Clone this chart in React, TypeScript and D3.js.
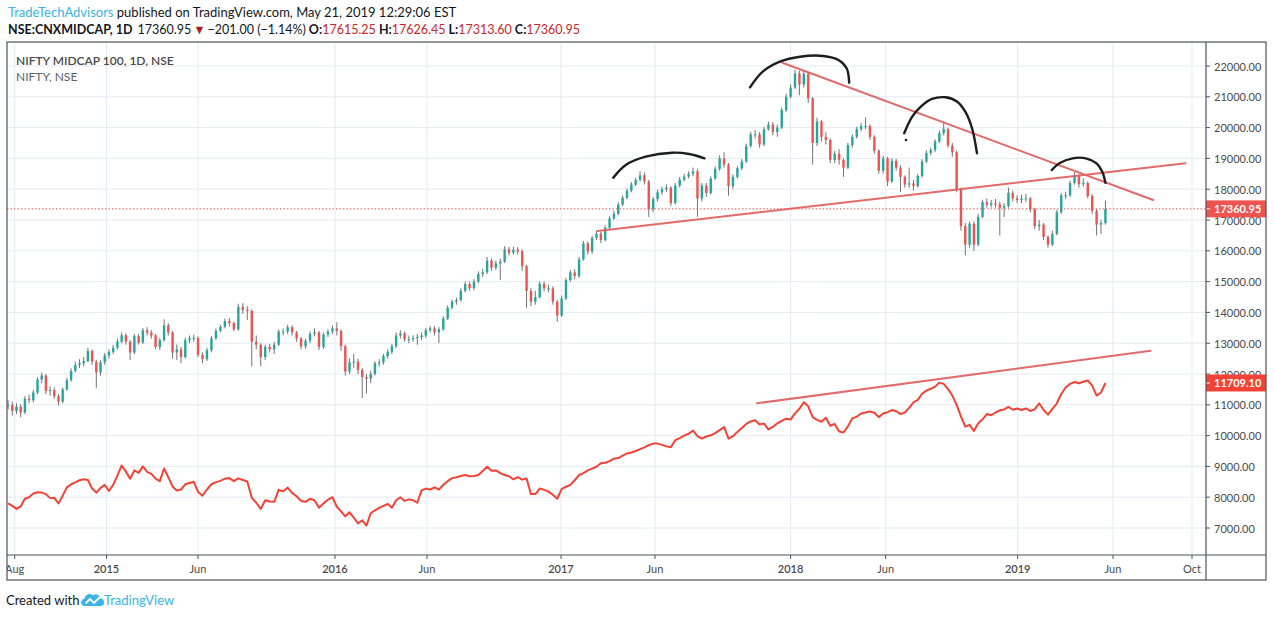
import React, { useEffect, useRef } from 'react';
import * as d3 from 'd3';

// ---- data (weekly bars, first week = 2014-07-21) ----
const weekStart = '2014-07-21';

const midClose = [
  11000, 10800, 10940, 10750, 11200, 11150, 11400, 11820, 11950, 11450,
  11480, 11280, 11100, 11500, 11800, 12100, 12300, 12350, 12420, 12750,
  12400, 12050, 12380, 12600, 12720, 12850, 13050, 13260, 13050, 12700,
  13230, 13020, 13420, 13340, 13250, 12880, 13100, 13580, 13350, 12700,
  12800, 12550, 13100, 13160, 13170, 12620, 12480, 12770, 13160, 13400,
  13530, 13720, 13650, 13450, 14180, 14080, 14050, 13050, 12950, 12550,
  12880, 12800, 12950, 13380, 13380, 13520, 13350, 13150, 12900, 13080,
  13300, 13350, 12880, 13280, 13380, 13480, 13400, 12900, 12080, 12380,
  12400, 12130, 11900, 11850, 12000, 12350, 12380, 12580, 12720, 12900,
  13250, 13320, 13130, 13130, 13170, 13200, 13250, 13420, 13480, 13350,
  13450, 13800, 14150, 14350, 14400, 14700, 14920, 14790, 15000, 15250,
  15300, 15680, 15450, 15590, 15650, 16050, 15940, 16040, 15980, 15500,
  14700, 14350, 14500, 14930, 14780, 14780, 14350, 13900, 14450, 15050,
  15300, 15180, 15720, 16240, 15980, 16420, 16560, 16350, 16750, 17050,
  17200, 17500, 17720, 17950, 18150, 18300, 18450, 18250, 17350, 17680,
  17900, 18000, 18050, 17550, 18120, 18310, 18410, 18500, 18580, 17700,
  18120, 17880, 18350, 18660, 19000, 18800, 18100, 18400, 18680, 18900,
  19400, 19780, 19780, 19450, 19950, 20100, 19860, 20000, 20570, 21000,
  21300, 21760, 21400, 21750, 20950, 19500, 20200, 19700, 19600, 18950,
  19150, 18950, 18700, 19430, 19700, 19950, 20050, 20050, 19700, 19250,
  18600, 19000, 18250, 18920, 18700, 18400, 18150, 18190, 18100, 18430,
  18900, 19180, 19270, 19550, 19820, 19950, 19420, 19200, 18000, 16800,
  16200, 16880, 16200, 17100, 17580, 17490, 17540, 17500, 17400, 17450,
  17880, 17700, 17650, 17700, 17700, 17350, 16800, 16850, 16450, 16200,
  16550, 17250, 17800, 17800, 18200, 18420, 18160, 18200, 17780, 17300,
  16850, 16900, 17360.95,
];

const midHigh = [
  11150, 11100, 11050, 11020, 11280, 11330, 11480, 11900, 12050, 12000,
  11600, 11560, 11350, 11560, 11880, 12180, 12400, 12480, 12550, 12850,
  12800, 12450, 12450, 12680, 12800, 12950, 13150, 13350, 13320, 13100,
  13300, 13300, 13500, 13520, 13420, 13300, 13180, 13780, 13650, 13400,
  12960, 12880, 13180, 13250, 13280, 13220, 12700, 12850, 13230, 13480,
  13600, 13800, 13820, 13700, 14280, 14300, 14200, 14100, 13250, 13000,
  12950, 12980, 13050, 13450, 13480, 13600, 13580, 13400, 13200, 13150,
  13380, 13480, 13400, 13350, 13450, 13580, 13680, 13450, 12950, 12500,
  12650, 12500, 12200, 12000, 12100, 12420, 12480, 12650, 12800, 12980,
  13350, 13420, 13380, 13250, 13260, 13300, 13350, 13500, 13560, 13550,
  13520, 13880, 14230, 14420, 14480, 14780, 15000, 15000, 15080, 15330,
  15420, 15800, 15750, 15680, 15750, 16150, 16120, 16130, 16120, 16050,
  15550, 14800, 14700, 15000, 15000, 14900, 14850, 14400, 14550, 15120,
  15380, 15400, 15800, 16320, 16300, 16480, 16650, 16620, 16820, 17120,
  17300, 17580, 17800, 18030, 18230, 18380, 18580, 18550, 18300, 17750,
  17980, 18080, 18150, 18100, 18200, 18400, 18500, 18580, 18700, 18650,
  18200, 18200, 18420, 18740, 19100, 19200, 18850, 18480, 18750, 18980,
  19480, 19860, 19920, 19850, 20020, 20200, 20180, 20100, 20650, 21100,
  21400, 21880, 21850, 21850, 21800, 21000, 20320, 20250, 19850, 19650,
  19250, 19300, 19000, 19500, 19780, 20030, 20150, 20330, 20100, 19750,
  19300, 19080, 19050, 19000, 18980, 18780, 18450, 18700, 18300, 18500,
  18980, 19260, 19350, 19620, 19900, 20150, 20000, 19500, 19250, 18050,
  16900, 16950, 16950, 17200, 17660, 17700, 17650, 17680, 17600, 17550,
  18050, 17950, 17800, 17820, 17850, 17750, 17400, 17000, 16900, 16500,
  16650, 17330, 17880, 17920, 18280, 18550, 18480, 18350, 18250, 17850,
  17350, 17000, 17626.45,
];

const midLow = [
  10850, 10650, 10700, 10600, 10700, 11050, 11080, 11350, 11700, 11350,
  11300, 11200, 10980, 11050, 11450, 11750, 12050, 12200, 12250, 12380,
  12300, 11550, 11950, 12300, 12500, 12650, 12800, 13000, 12950, 12450,
  12650, 12950, 12980, 13250, 13150, 12800, 12780, 13050, 13250, 12500,
  12450, 12350, 12500, 13000, 13050, 12550, 12350, 12420, 12700, 13100,
  13350, 13480, 13550, 13380, 13400, 13950, 13750, 12250, 12800, 12250,
  12450, 12700, 12650, 12900, 13250, 13300, 13250, 13050, 12800, 12820,
  13000, 13220, 12780, 12820, 13200, 13300, 13250, 12750, 11950, 12000,
  12200, 12000, 11220, 11370, 11700, 11950, 12250, 12300, 12500, 12650,
  12850, 13150, 13050, 13000, 13050, 12950, 13100, 13180, 13350, 13250,
  13000, 13400, 13750, 14100, 14250, 14350, 14650, 14700, 14720, 14950,
  15150, 15250, 15350, 15380, 15050, 15600, 15850, 15880, 15880, 15350,
  14150, 14200, 14250, 14450, 14680, 14650, 14250, 13700, 13850, 14400,
  15000, 15080, 15120, 15680, 15880, 15900, 16350, 16250, 16300, 16700,
  17000, 17150, 17450, 17680, 17900, 18100, 18250, 18150, 17100, 17250,
  17600, 17820, 17900, 17450, 17500, 18050, 18250, 18350, 18420, 17100,
  17600, 17750, 17820, 18300, 18600, 18700, 17790, 18000, 18350, 18620,
  18850, 19350, 19650, 19350, 19400, 19900, 19750, 19700, 19950, 20500,
  20950, 21250, 21050, 21300, 20800, 18800, 19400, 19550, 19450, 18850,
  18850, 18800, 18400, 18650, 19350, 19650, 19880, 19950, 19600, 19150,
  18500, 18500, 18100, 18200, 18600, 17900, 18050, 18050, 17950, 18050,
  18380, 18850, 19100, 19200, 19500, 19750, 19350, 19050, 17900, 16650,
  15850, 16100, 16000, 16150, 17050, 17400, 17400, 17400, 16500, 17100,
  17400, 17600, 17550, 17550, 17580, 17250, 16700, 16650, 16350, 16100,
  16150, 16500, 17200, 17680, 17750, 18150, 18050, 18080, 17700, 17200,
  16500, 16550, 16850,
];

const niftyClose = [
  7800, 7720, 7620, 7700, 7950, 8000, 8120, 8160, 8150, 8100,
  7970, 7980, 7800, 8050, 8320, 8420, 8480, 8550, 8580, 8560,
  8280, 8150, 8300, 8400, 8200, 8400, 8700, 9030, 8830, 8600,
  8870, 8790, 9000, 8820, 8760, 8600, 8520, 8930, 8650, 8350,
  8220, 8250, 8420, 8460, 8500, 8180, 8050, 8250, 8420, 8490,
  8530, 8600, 8620, 8520, 8610, 8560, 8510, 7980, 7820, 7620,
  7900, 7860, 7850, 8240, 8190, 8310, 8140, 8030, 7880, 7850,
  7950, 7900, 7660, 7800, 7920, 8000, 7690, 7540, 7380, 7510,
  7340, 7150, 7250, 7080, 7480, 7570, 7650, 7720, 7780, 7660,
  7900, 8000, 7880, 7930, 7900, 7820, 8220, 8280, 8250, 8320,
  8250, 8400, 8520, 8620, 8650, 8690, 8720, 8680, 8690, 8720,
  8850, 8990, 8860, 8870, 8780, 8720, 8680, 8580, 8650, 8570,
  8610, 8100, 8100, 8280, 8240, 8180, 8080, 7950, 8260, 8340,
  8400, 8550, 8720, 8780, 8870, 8930, 8990, 9100, 9120, 9170,
  9250, 9270, 9350, 9420, 9450, 9500, 9560, 9620, 9690, 9740,
  9740, 9700, 9650, 9620, 9850, 9920, 10000, 10060, 10160, 9980,
  9900, 9970, 10010, 10080, 10180, 10280, 9900, 9980, 10120, 10250,
  10380, 10460, 10500, 10360, 10390, 10200, 10280, 10400, 10480, 10550,
  10520, 10720, 10870, 11080, 10950, 10600, 10510, 10450, 10580, 10320,
  10380, 10130, 10100, 10300, 10560, 10610, 10720, 10750, 10780, 10740,
  10600, 10720, 10760, 10830, 10790, 10700, 10750, 10900, 11080, 11160,
  11360, 11460, 11520, 11590, 11720, 11680, 11510, 11300, 11000, 10620,
  10290, 10350, 10150, 10400, 10530, 10700, 10660, 10750, 10820, 10850,
  10930, 10840, 10880, 10830, 10880, 10800, 10850, 11050, 10830, 10680,
  10870, 11050, 11350, 11560, 11680, 11740, 11700, 11750, 11790, 11620,
  11300, 11400, 11709.1,
];

const priceTicks = [7000, 8000, 9000, 10000, 11000, 12000, 13000, 14000, 15000, 16000, 17000, 18000, 19000, 20000, 21000, 22000];

const timeTicks = [
  { date: '2014-08-01', label: 'Aug', year: false },
  { date: '2015-01-01', label: '2015', year: true },
  { date: '2015-06-01', label: 'Jun', year: false },
  { date: '2016-01-01', label: '2016', year: true },
  { date: '2016-06-01', label: 'Jun', year: false },
  { date: '2017-01-01', label: '2017', year: true },
  { date: '2017-06-01', label: 'Jun', year: false },
  { date: '2018-01-01', label: '2018', year: true },
  { date: '2018-06-01', label: 'Jun', year: false },
  { date: '2019-01-01', label: '2019', year: true },
  { date: '2019-06-01', label: 'Jun', year: false },
  { date: '2019-10-01', label: 'Oct', year: false },
];

// trend lines drawn on the chart, in [date, price]
const midResistance: [string, number][] = [['2017-12-19', 22107], ['2019-08-02', 17649]];
const midSupport: [string, number][] = [['2017-03-01', 16643], ['2019-09-21', 18841]];
const niftyResistance: [string, number][] = [['2017-11-09', 11049], ['2019-07-29', 12756]];

// hand drawn arcs
const arcs: [string, number][][] = [
  [['2017-03-26', 18373], ['2017-04-15', 18786], ['2017-05-17', 19055], ['2017-06-28', 19185], ['2017-07-25', 19143], ['2017-08-18', 19003]],
  [['2017-10-29', 21308], ['2017-11-18', 21815], ['2017-12-15', 22140], ['2018-01-16', 22302], ['2018-02-22', 22325], ['2018-03-18', 22195], ['2018-03-31', 21925], ['2018-04-04', 21458]],
  [['2018-07-01', 19815], ['2018-07-14', 20354], ['2018-07-28', 20679], ['2018-08-15', 20929], ['2018-09-06', 20984], ['2018-09-25', 20841], ['2018-10-08', 20516], ['2018-10-19', 19977], ['2018-10-27', 19166]],
  [['2019-02-24', 18623], ['2019-03-08', 18841], ['2019-03-29', 19003], ['2019-04-19', 19003], ['2019-05-06', 18841], ['2019-05-15', 18568], ['2019-05-20', 18211]],
];
const arcDot: [string, number] = ['2018-07-04', 19597];

const midLast = 17360.95;
const niftyLast = 11709.1;

// ---- layout ----
const W = 1274;
const H = 618;
const pane = { left: 7, top: 42, right: 1206, bottom: 555 };
const outer = { right: 1266, bottom: 580 };
// the time axis is drawn by trading days, so calibrate it against the tick marks
const axisPx = [14.7, 106.5, 198, 335, 427, 561, 655, 790.6, 885.7, 1017.7, 1113, 1192];
const FONT = 'Lato, "Open Sans", sans-serif';
const UP = '#26a69a';
const DOWN = '#ef5350';
const WICK = '#737375';
const NIFTY = '#f44336';
const TREND = '#e06262';
const GRID = '#e3ebf2';
const FRAME = '#50535e';
const TEXT = '#4a4a4a';

export default function App() {
  const svgRef = useRef<SVGSVGElement>(null);

  useEffect(() => {
    const svg = d3.select(svgRef.current);
    svg.selectAll('*').remove();

    const parse = d3.timeParse('%Y-%m-%d');
    const start = parse(weekStart)!;
    const weekDate = (i: number) => d3.timeDay.offset(start, 7 * i);

    const x = d3.scaleTime()
      .domain(timeTicks.map(t => parse(t.date)!))
      .range(axisPx);
    const y = d3.scaleLinear().domain([7000, 22000]).range([528, 66]);

    svg.append('rect').attr('width', W).attr('height', H).attr('fill', '#fff');

    const defs = svg.append('defs');
    defs.append('clipPath').attr('id', 'pane-clip')
      .append('rect')
      .attr('x', pane.left).attr('y', pane.top)
      .attr('width', pane.right - pane.left).attr('height', pane.bottom - pane.top);
    defs.append('clipPath').attr('id', 'time-clip')
      .append('rect')
      .attr('x', pane.left).attr('y', pane.bottom)
      .attr('width', pane.right - pane.left).attr('height', outer.bottom - pane.bottom);

    // grid
    const grid = svg.append('g').attr('clip-path', 'url(#pane-clip)');
    grid.selectAll('.hg').data(priceTicks).enter().append('line')
      .attr('x1', pane.left).attr('x2', pane.right)
      .attr('y1', d => y(d)).attr('y2', d => y(d))
      .attr('stroke', GRID).attr('stroke-width', 1);
    grid.selectAll('.vg').data(timeTicks).enter().append('line')
      .attr('x1', d => x(parse(d.date)!)).attr('x2', d => x(parse(d.date)!))
      .attr('y1', pane.top).attr('y2', pane.bottom)
      .attr('stroke', GRID).attr('stroke-width', 1);

    const plot = svg.append('g').attr('clip-path', 'url(#pane-clip)');

    // NIFTY line
    const niftyLine = d3.line<number>()
      .x((_, i) => x(weekDate(i)))
      .y(d => y(d));
    plot.append('path')
      .attr('d', niftyLine(niftyClose))
      .attr('fill', 'none')
      .attr('stroke', NIFTY)
      .attr('stroke-width', 2)
      .attr('stroke-linejoin', 'round');

    // candles
    const bars = midClose.map((c, i) => {
      const o = i === 0 ? c : midClose[i - 1];
      return {
        date: weekDate(i),
        o,
        c,
        h: Math.max(midHigh[i], o, c),
        l: Math.min(midLow[i], o, c),
      };
    });
    const bodyW = 2.4;
    const candles = plot.append('g');
    candles.selectAll('.wick').data(bars).enter().append('line')
      .attr('x1', d => x(d.date)).attr('x2', d => x(d.date))
      .attr('y1', d => y(d.h)).attr('y2', d => y(d.l))
      .attr('stroke', WICK).attr('stroke-width', 1);
    candles.selectAll('.body').data(bars).enter().append('rect')
      .attr('x', d => x(d.date) - bodyW / 2)
      .attr('y', d => y(Math.max(d.o, d.c)))
      .attr('width', bodyW)
      .attr('height', d => Math.max(1, Math.abs(y(d.o) - y(d.c))))
      .attr('fill', d => (d.c >= d.o ? UP : DOWN));

    // last price dotted line
    plot.append('line')
      .attr('x1', pane.left).attr('x2', pane.right)
      .attr('y1', y(midLast)).attr('y2', y(midLast))
      .attr('stroke', DOWN).attr('stroke-width', 1)
      .attr('stroke-dasharray', '1.5,2');

    // trend lines
    const pt = (p: [string, number]): [number, number] => [x(parse(p[0])!), y(p[1])];
    [midResistance, midSupport, niftyResistance].forEach(seg => {
      const a = pt(seg[0]);
      const b = pt(seg[1]);
      plot.append('line')
        .attr('x1', a[0]).attr('y1', a[1]).attr('x2', b[0]).attr('y2', b[1])
        .attr('stroke', TREND).attr('stroke-width', 2).attr('stroke-opacity', 0.95)
        .attr('stroke-linecap', 'round');
    });

    // hand drawn arcs
    const arcLine = d3.line<[string, number]>()
      .x(d => x(parse(d[0])!))
      .y(d => y(d[1]))
      .curve(d3.curveCatmullRom.alpha(0.5));
    arcs.forEach(a => {
      plot.append('path')
        .attr('d', arcLine(a))
        .attr('fill', 'none')
        .attr('stroke', '#1e1e1e')
        .attr('stroke-width', 2.4)
        .attr('stroke-linecap', 'round');
    });
    const dot = pt(arcDot);
    plot.append('circle').attr('cx', dot[0]).attr('cy', dot[1]).attr('r', 1.3).attr('fill', '#1e1e1e');

    // series titles
    svg.append('text')
      .attr('x', 16).attr('y', 65)
      .attr('font-family', FONT).attr('font-size', 12).attr('font-weight', 600)
      .attr('fill', TEXT)
      .text('NIFTY MIDCAP 100, 1D, NSE');
    svg.append('text')
      .attr('x', 16).attr('y', 81)
      .attr('font-family', FONT).attr('font-size', 12)
      .attr('fill', '#5d606b')
      .text('NIFTY, NSE');

    // price axis
    const pa = svg.append('g');
    pa.selectAll('.pt').data(priceTicks).enter().append('line')
      .attr('x1', pane.right).attr('x2', pane.right + 4)
      .attr('y1', d => y(d)).attr('y2', d => y(d))
      .attr('stroke', FRAME);
    pa.selectAll('.pl').data(priceTicks).enter().append('text')
      .attr('x', pane.right + 8).attr('y', d => y(d))
      .attr('dominant-baseline', 'central')
      .attr('font-family', FONT).attr('font-size', 11)
      .attr('fill', TEXT)
      .text(d => d3.format('.2f')(d));

    const priceTag = (v: number, color: string) => {
      const g = svg.append('g');
      g.append('rect')
        .attr('x', pane.right).attr('y', y(v) - 8.5)
        .attr('width', outer.right - pane.right).attr('height', 17)
        .attr('fill', color);
      g.append('line')
        .attr('x1', pane.right).attr('x2', pane.right + 4)
        .attr('y1', y(v)).attr('y2', y(v))
        .attr('stroke', '#fff');
      g.append('text')
        .attr('x', pane.right + 8).attr('y', y(v))
        .attr('dominant-baseline', 'central')
        .attr('font-family', FONT).attr('font-size', 11).attr('font-weight', 700)
        .attr('fill', '#fff')
        .text(d3.format('.2f')(v));
    };
    priceTag(midLast, DOWN);
    priceTag(niftyLast, NIFTY);

    // time axis
    const ta = svg.append('g');
    ta.selectAll('.tt').data(timeTicks).enter().append('line')
      .attr('x1', d => x(parse(d.date)!)).attr('x2', d => x(parse(d.date)!))
      .attr('y1', pane.bottom).attr('y2', pane.bottom + 4)
      .attr('stroke', FRAME);
    ta.append('g').attr('clip-path', 'url(#time-clip)')
      .selectAll('text').data(timeTicks).enter().append('text')
      .attr('x', d => x(parse(d.date)!)).attr('y', 573)
      .attr('text-anchor', 'middle')
      .attr('font-family', FONT).attr('font-size', 11)
      .attr('font-weight', d => (d.year ? 600 : 400))
      .attr('fill', TEXT)
      .text(d => d.label);

    // frame
    const frame = svg.append('g').attr('stroke', FRAME).attr('stroke-width', 1.2).attr('fill', 'none');
    frame.append('rect')
      .attr('x', pane.left).attr('y', pane.top)
      .attr('width', outer.right - pane.left).attr('height', outer.bottom - pane.top);
    frame.append('line').attr('x1', pane.right).attr('x2', pane.right).attr('y1', pane.top).attr('y2', outer.bottom);
    frame.append('line').attr('x1', pane.left).attr('x2', outer.right).attr('y1', pane.bottom).attr('y2', pane.bottom);

    // header
    const h1 = svg.append('text')
      .attr('x', 8).attr('y', 17)
      .attr('font-family', FONT).attr('font-size', 13)
      .attr('fill', '#131722');
    h1.append('tspan').attr('fill', '#3bb3e4').text('TradeTechAdvisors');
    h1.append('tspan').text(' published on TradingView.com, May 21, 2019 12:29:06 EST');

    const h2 = svg.append('text')
      .attr('x', 8).attr('y', 34)
      .attr('font-family', FONT).attr('font-size', 12.5)
      .attr('fill', '#131722');
    const red = '#c62828';
    h2.append('tspan').attr('font-weight', 700).text('NSE:CNXMIDCAP, 1D');
    h2.append('tspan').attr('dx', 5).text('17360.95');
    h2.append('tspan').attr('dx', 2).attr('fill', '#a61b1b').text('▼');
    h2.append('tspan').attr('dx', 2).text('−201.00 (−1.14%)');
    [['O:', '17615.25'], ['H:', '17626.45'], ['L:', '17313.60'], ['C:', '17360.95']].forEach(([k, v]) => {
      h2.append('tspan').attr('dx', 3).attr('font-weight', 700).text(k);
      h2.append('tspan').attr('fill', red).text(v);
    });

    // footer
    svg.append('text')
      .attr('x', 6).attr('y', 605)
      .attr('font-family', FONT).attr('font-size', 13)
      .attr('fill', '#131722')
      .text('Created with');
    const logo = svg.append('g').attr('transform', 'translate(82,592)');
    logo.append('path')
      .attr('d', 'M3 14 A3.5 3.5 0 0 1 2.5 7 A5 5 0 0 1 11 3.5 A4.5 4.5 0 0 1 18.5 6.5 A3.8 3.8 0 0 1 19 14 Z')
      .attr('fill', '#3bb3e4');
    logo.append('path')
      .attr('d', 'M3.5 11.5 L8 7 L12 11 L18 5')
      .attr('fill', 'none').attr('stroke', '#fff').attr('stroke-width', 1.8);
    svg.append('text')
      .attr('x', 104).attr('y', 605)
      .attr('font-family', FONT).attr('font-size', 13)
      .attr('fill', '#3bb3e4')
      .text('TradingView');
  }, []);

  return (
    <svg
      ref={svgRef}
      width={W}
      height={H}
      style={{ position: 'absolute', left: 0, top: 0, display: 'block' }}
    />
  );
}
